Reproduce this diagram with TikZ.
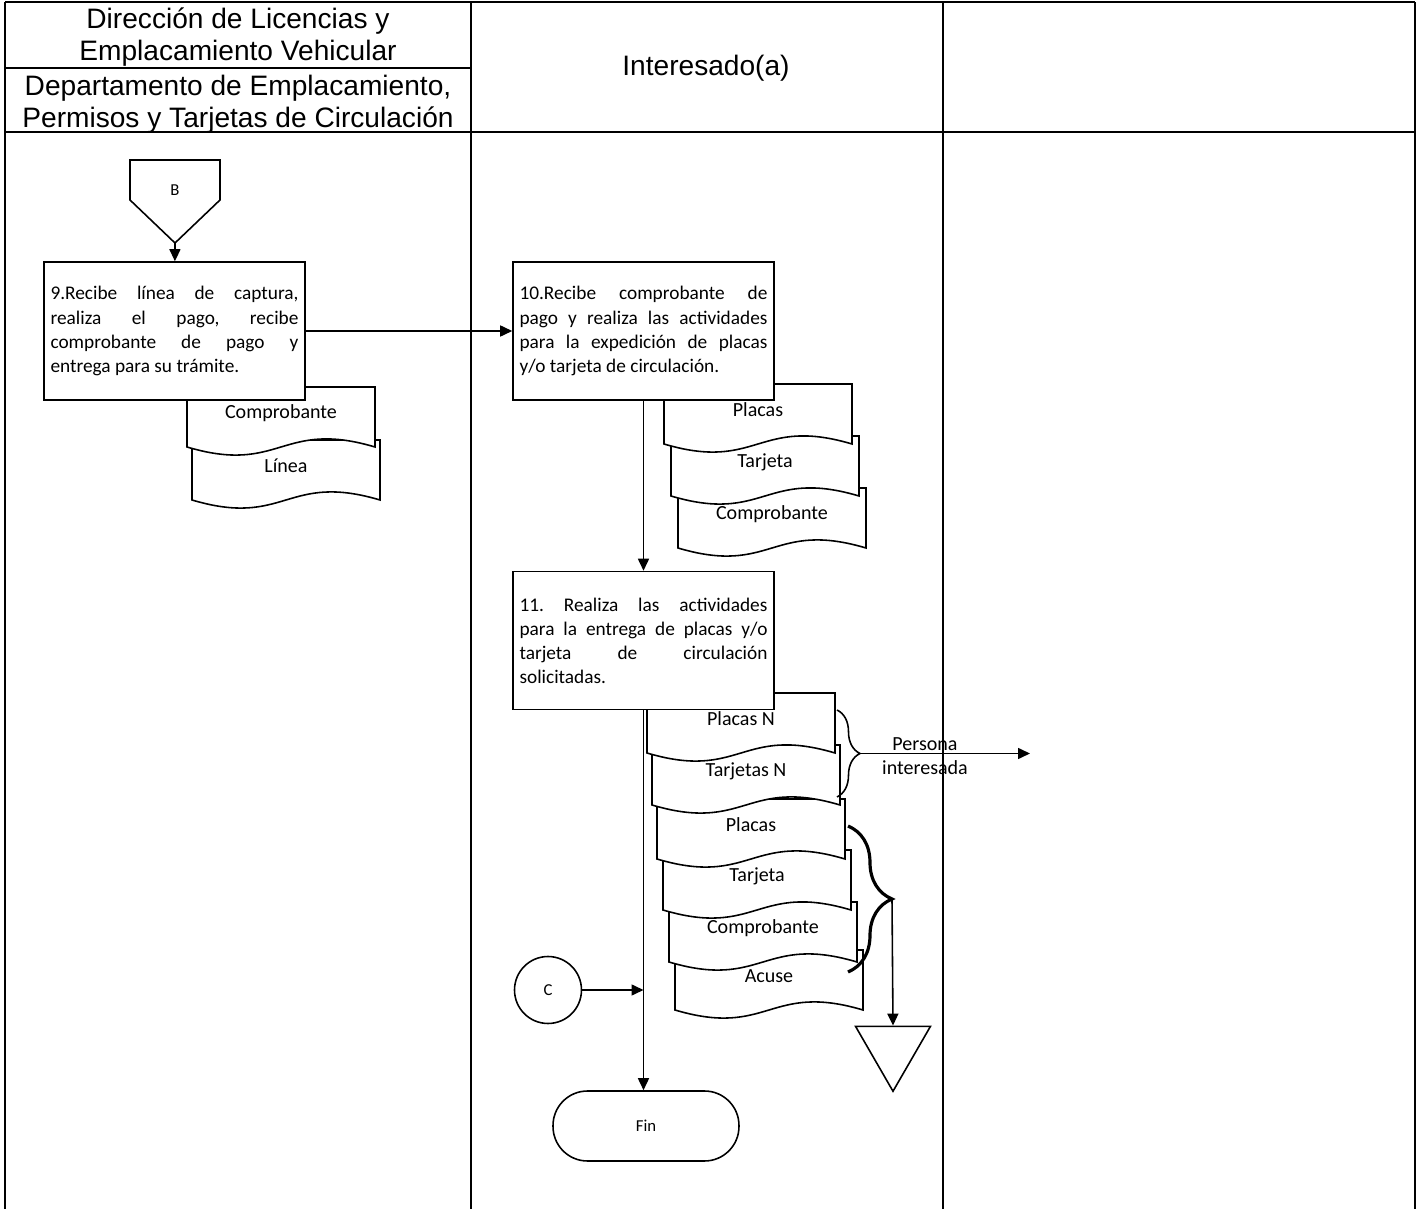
\documentclass[tikz,border=0pt]{standalone}
\usepackage{fontspec}
\setmainfont{Carlito}
\newfontfamily\hdrfont{Liberation Sans}
\usetikzlibrary{positioning, arrows.meta, shapes.geometric, decorations.pathreplacing}
\frenchspacing

\tikzset{
  lane/.style={line width=1.1pt},
  hdr/.style={font=\hdrfont\fontsize{16}{18.2}\selectfont, align=center},
  activity/.style={draw, line width=0.9pt, fill=white, text width=4.96cm, inner xsep=0.13cm,
    minimum height=2.76cm, align=justify, font=\fontsize{11}{13.7}\selectfont},
  docline/.style={draw, line width=0.9pt, fill=white},
  doclabel/.style={font=\fontsize{11.4}{13.7}\selectfont, inner sep=0pt},
  flow/.style={-{Triangle[length=0.24cm,width=0.22cm]}, line width=0.9pt},
  small/.style={font=\fontsize{9.5}{11}\selectfont}
}

% document symbol: name, left x, top y, label
\newcommand{\docu}[4]{%
  \draw[docline] (#2,#3) -- (#2,#3+60)
    .. controls +(94,28) and +(-94,-28) .. (#2+188,#3+60) -- (#2+188,#3) -- cycle;
  \node[doclabel] (#1) at (#2+94,#3+26) {#4};
}

\begin{document}
\begin{tikzpicture}[x=0.02cm, y=-0.02cm]
  \useasboundingbox (0,0) rectangle (1418,1209);

  % lanes
  \draw[lane] (5,2) -- (1415,2);
  \draw[lane] (5,68) -- (471,68);
  \draw[lane] (5,132) -- (1415,132);
  \foreach \xl in {5,471,943,1415}
    \draw[lane] (\xl,2) -- (\xl,1209);

  \node[hdr] (dir) at (238,37) {Dirección de Licencias y\\Emplacamiento Vehicular};
  \node[hdr] (dep) at (238,104) {Departamento de Emplacamiento,\\Permisos y Tarjetas de Circulación};
  \node[hdr] (int) at (706,68) {Interesado(a)};

  % documents (lowest first)
  \docu{d9b}{192}{440}{Línea}
  \docu{d9a}{187}{387}{Comprobante}

  \docu{d10c}{678}{488}{Comprobante}
  \docu{d10b}{671}{436}{Tarjeta}
  \docu{d10a}{664}{384}{Placas}

  \docu{d11f}{675}{950}{Acuse}
  \docu{d11e}{669}{902}{Comprobante}
  \docu{d11d}{663}{850}{Tarjeta}
  \docu{d11c}{657}{799}{Placas}
  \docu{d11b}{652}{745}{Tarjetas N}
  \docu{d11a}{647}{693}{Placas N}

  % off-page connector
  \draw[line width=0.9pt] (130,160) -- (220,160) -- (220,200) -- (175,243) -- (130,200) -- cycle;
  \node[small] (B) at (175,190) {B};
  \coordinate (Btip) at (175,243);

  % activities
  \node[activity] (a9) at (174.5,331) {9.Recibe línea de captura,\linebreak realiza el pago, recibe\linebreak comprobante de pago y\linebreak entrega para su trámite.};
  \node[activity] (a10) at (643.5,331) {10.Recibe comprobante de\linebreak pago y realiza las actividades\linebreak para la expedición de placas\linebreak y/o tarjeta de circulación.};
  \node[activity] (a11) [below=3.4cm of a10] {11. Realiza las actividades\linebreak para la entrega de placas y/o\linebreak tarjeta de circulación\linebreak solicitadas.};
  \node[circle, draw, line width=0.9pt, minimum size=1.34cm, small] (C) at (548,990) {C};
  \node[rectangle, rounded corners=0.69cm, draw, line width=0.9pt, minimum width=3.72cm, minimum height=1.4cm, small] (fin) at (646,1126) {Fin};
  \node[regular polygon, regular polygon sides=3, shape border rotate=180, draw, line width=0.9pt,
    minimum size=1.73cm, inner sep=0pt] (arch) at (893,1048) {};

  % braces
  \draw[line width=0.9pt, decorate, decoration={brace, amplitude=0.46cm}] (837,710) -- (837,797);
  \coordinate (t1) at (860,753.5);
  \draw[line width=1.8pt, decorate, decoration={brace, amplitude=0.88cm}] (848,826) -- (848,972);
  \coordinate (t2) at (892,899);
  \coordinate (out) at (1030,753.5);
  \node[doclabel, align=center] (per) at (925,756) {Persona\\interesada};

  % flow
  \draw[flow] (Btip) -- (a9);
  \draw[flow] (a9) -- (a10);
  \draw[flow] (a10) -- (a11);
  \draw[flow] (a11.south) -- (a11.south |- fin.north);
  \draw[flow] (C) -- (C.east -| a11.south);
  \draw[flow] (t1) -- (out);
  \draw[flow] (t2) -- (arch.north);
\end{tikzpicture}
\end{document}
